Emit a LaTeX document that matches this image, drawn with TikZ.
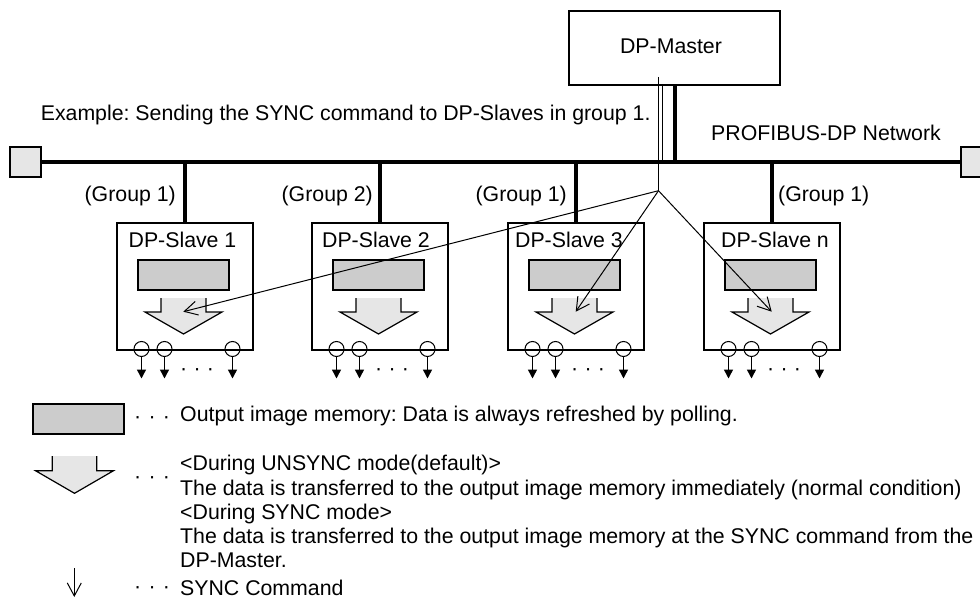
\documentclass[tikz,border=0pt]{standalone}
\usepackage{fontspec}
\setmainfont{Liberation Sans}
\usetikzlibrary{arrows.meta}
\definecolor{memgray}{HTML}{CCCCCC}
\definecolor{arrgray}{HTML}{E6E6E6}
\newcommand\dfs{\fontsize{21.3}{24}\selectfont\frenchspacing}
\begin{document}
\begin{tikzpicture}[x=1pt,y=-1pt,
  lbl/.style={font=\dfs, inner sep=0pt},
  boxst/.style={draw, line width=2pt, inner sep=0pt, anchor=north west},
  memst/.style={draw, line width=2pt, fill=memgray, inner sep=0pt, minimum width=91pt, minimum height=30pt},
  termst/.style={draw, line width=2pt, fill=arrgray, inner sep=0pt, minimum width=31pt, minimum height=30pt, anchor=north west},
  heavy/.style={line width=4pt},
  thinline/.style={line width=1pt},
  syncarrow/.style={line width=1pt, -{Straight Barb[length=13pt,width=14pt,line width=1pt]}},
  outarrow/.style={line width=1.5pt, -{Triangle[length=9pt,width=9pt]}},
  hollow/.style={draw, line width=1.2pt, fill=arrgray},
  portst/.style={circle, draw, line width=1pt, minimum size=15pt, inner sep=0pt},
]
\useasboundingbox (0,0) rectangle (980,599);

% master and bus
\node[boxst, minimum width=211pt, minimum height=74pt] (master) at (568,10) {};
\node[lbl, anchor=base] (masterlbl) at (671,53.3) {DP-Master};
\node[termst] (tl) at (9,146) {};
\node[termst] (tr) at (960,146) {};
\draw[heavy] (tl.east) -- (tr.west);
\coordinate (bus) at (0,161);
\draw[heavy] (master.south) -- (master.south |- bus);
\coordinate (mtop) at (658.5,77);
\coordinate (fan) at (658.5,190.7);
\draw[thinline] (mtop) -- (fan);
\coordinate (m2) at (662,84);
\draw[thinline] (m2) -- (m2 |- bus);

\node[lbl, anchor=base west] (example) at (40.6,121) {Example: Sending the SYNC command to DP-Slaves in group 1.};
\node[lbl, anchor=base west] (netlbl) at (711,141) {PROFIBUS-DP Network};

% slaves
\foreach \n/\L/\tx/\tt/\gt/\ganc/\gx in {1/116/182.5/1/1/base east/176, 2/311/376/2/2/base east/373, 3/507/569/3/1/base east/567, 4/703/775/n/1/base west/778}{
  \node[boxst, minimum width=136pt, minimum height=127pt] (s\n) at (\L,222) {};
  \draw[heavy] (s\n.north) -- (s\n.north |- bus);
  \node[lbl, anchor=\ganc] (g\n) at (\gx,201.7) {(Group \gt)};
  \node[lbl, anchor=base] (t\n) at (\tx,247) {DP-Slave \tt};
  \node[memst] (m\n) at ({\L+67.5},275) {};
  \begin{scope}[shift={({\L+67.5},0)}]
    \draw[hollow] (-22.5,298) -- (-22.5,312) -- (-38.5,312) -- (0,334) -- (38.5,312) -- (22.5,312) -- (22.5,298);
  \end{scope}
  \foreach \o [count=\k] in {25.5,48.5,116.5}{
    \node[portst] (p\n\k) at ({\L+\o},349) {};
    \coordinate (q\n\k) at ({\L+\o},378.5);
    \draw[outarrow] (p\n\k.south) -- (q\n\k);
  }
  \node[lbl, anchor=base west] (dots\n) at ({\L+64},375) {·\hspace{6.3pt}·\hspace{6.3pt}·};
}

% SYNC command arrows
\coordinate (tip1) at (183.3,311.7);
\coordinate (tip3) at (575.7,311.7);
\coordinate (tip4) at (771.7,311.7);
\draw[syncarrow] (fan) -- (tip1);
\draw[syncarrow] (fan) -- (tip3);
\draw[syncarrow] (fan) -- (tip4);

% legend
\node[memst, anchor=north west] (legmem) at (32,403) {};
\node[lbl, anchor=base west] (ldots1) at (134,423) {·\hspace{7.3pt}·\hspace{7.3pt}·};
\node[lbl, anchor=base west] (leg1) at (180,421.7) {Output image memory: Data is always refreshed by polling.};

\begin{scope}[shift={(74.5,0)}]
  \draw[hollow] (-22.2,456) -- (-22.2,470.7) -- (-39,470.7) -- (0,493.3) -- (39,470.7) -- (22.2,470.7) -- (22.2,456);
\end{scope}
\node[lbl, anchor=base west] (ldots2) at (134,483.7) {·\hspace{7.3pt}·\hspace{7.3pt}·};
\node[lbl, anchor=base west] (leg2) at (180,470.7) {<During UNSYNC mode(default)>};
\node[lbl, anchor=base west] (leg3) at (180,495) {The data is transferred to the output image memory immediately (normal condition)};
\node[lbl, anchor=base west] (leg4) at (180,519.3) {<During SYNC mode>};
\node[lbl, anchor=base west] (leg5) at (180,543.6) {The data is transferred to the output image memory at the SYNC command from the};
\node[lbl, anchor=base west] (leg6) at (180,567.9) {DP-Master.};

\coordinate (la1) at (74.3,568);
\coordinate (la2) at (74.3,597);
\draw[syncarrow] (la1) -- (la2);
\node[lbl, anchor=base west] (ldots3) at (134,593.7) {·\hspace{7.3pt}·\hspace{7.3pt}·};
\node[lbl, anchor=base west] (leg7) at (180,595) {SYNC Command};
\end{tikzpicture}
\end{document}
